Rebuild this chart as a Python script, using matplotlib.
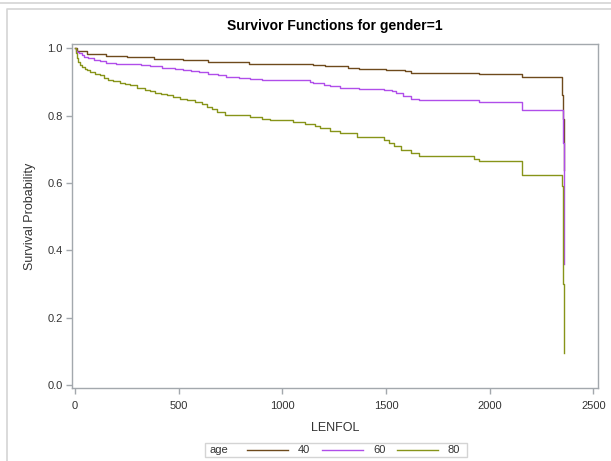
import numpy as np
import matplotlib.pyplot as plt
from matplotlib.lines import Line2D
from matplotlib.patches import Rectangle

plt.rcParams['font.family'] = ['Liberation Sans', 'DejaVu Sans']

# ---- Kaplan-Meier step estimates by age group (time in days, survival) ----
t40 = [0, 10, 60, 150, 250, 380, 520, 640, 840, 1146, 1204, 1315, 1372, 1502,
       1565, 1590, 1620, 1947, 2154, 2351, 2354, 2357]
s40 = [1.0, 0.992, 0.984, 0.977, 0.974, 0.969, 0.964, 0.959, 0.955, 0.950, 0.947,
       0.943, 0.940, 0.937, 0.937, 0.932, 0.928, 0.925, 0.915, 0.86, 0.79, 0.64]

t60 = [0, 5, 12, 20, 32, 45, 65, 90, 120, 150, 200, 270, 320, 360, 420, 480, 520,
       560, 600, 640, 690, 730, 790, 843, 900, 1135, 1150, 1200, 1230, 1280, 1370,
       1490, 1530, 1550, 1580, 1620, 1660, 1923, 1947, 2154, 2352, 2358]
s60 = [1.0, 0.992, 0.988, 0.985, 0.980, 0.975, 0.970, 0.966, 0.962, 0.958, 0.955,
       0.953, 0.950, 0.947, 0.943, 0.940, 0.937, 0.933, 0.929, 0.925, 0.920, 0.915,
       0.911, 0.908, 0.905, 0.900, 0.897, 0.892, 0.887, 0.882, 0.878, 0.875, 0.873,
       0.866, 0.858, 0.851, 0.848, 0.846, 0.841, 0.816, 0.72, 0.36]

t80 = [0, 3, 8, 15, 25, 36, 48, 60, 72, 95, 120, 140, 159, 185, 216, 240, 265,
       298, 337, 360, 385, 415, 443, 475, 505, 539, 577, 611, 635, 659, 683, 722,
       843, 900, 939, 1050, 1108, 1156, 1180, 1228, 1276, 1362, 1492, 1516, 1540,
       1574, 1622, 1660, 1923, 1947, 2154, 2350, 2353, 2356, 2358]
s80 = [1.0, 0.985, 0.970, 0.960, 0.950, 0.944, 0.939, 0.935, 0.930, 0.925, 0.920,
       0.913, 0.907, 0.902, 0.897, 0.893, 0.890, 0.882, 0.875, 0.872, 0.868, 0.864,
       0.860, 0.855, 0.851, 0.846, 0.841, 0.836, 0.826, 0.821, 0.811, 0.801, 0.796,
       0.789, 0.786, 0.781, 0.774, 0.769, 0.762, 0.755, 0.749, 0.737, 0.727, 0.719,
       0.709, 0.697, 0.688, 0.680, 0.672, 0.666, 0.625, 0.59, 0.47, 0.30, 0.095]

groups = ['40', '60', '80']
colors = ['#6E4A1C', '#B04EEA', '#879419']
series = [(t40, s40), (t60, s60), (t80, s80)]

W, H = 611, 461
fig = plt.figure(figsize=(W / 100, H / 100), dpi=100)

# page frames around the graph
fig.add_artist(Line2D([0, 1], [1 - 3 / H, 1 - 3 / H], color='#d4d4d4', lw=1.2))
fig.add_artist(Line2D([7 / W, 7 / W, 1], [0, 1 - 9.5 / H, 1 - 9.5 / H],
                      color='#d4d4d4', lw=1.2))

L, R, T, B = 72.3, 598.3, 44, 388
ax = fig.add_axes([L / W, 1 - B / H, (R - L) / W, (B - T) / H])

for (t, s), c in zip(series, colors):
    ax.step(t, s, where='post', color=c, lw=1.0)

ax.set_xlim(-13, 2524)
ax.set_ylim(-0.009, 1.013)
ax.set_xticks([0, 500, 1000, 1500, 2000, 2500])
ax.set_yticks([0.0, 0.2, 0.4, 0.6, 0.8, 1.0])
ax.set_yticklabels(['0.0', '0.2', '0.4', '0.6', '0.8', '1.0'])
for sp in ax.spines.values():
    sp.set_color('#a3a8ad')
    sp.set_linewidth(1.0)
ax.tick_params(colors='#a3a8ad', labelcolor='#333333', labelsize=8,
               length=4, width=1.0, pad=3)
ax.tick_params(axis='x', pad=5)

ax.set_xlabel('LENFOL', fontsize=9, color='#333333', labelpad=8)
ax.set_ylabel('Survival Probability', fontsize=9, color='#333333', labelpad=8)
fig.text((L + R) / 2 / W, 1 - 26 / H, 'Survivor Functions for gender=1',
         ha='center', va='center', fontsize=10, fontweight='bold')

# legend strip along the bottom
lx0, lx1, ly0, ly1 = 205, 467, 443, 457
fig.add_artist(Rectangle((lx0 / W, 1 - ly1 / H), (lx1 - lx0) / W, (ly1 - ly0) / H,
                         fill=False, edgecolor='#d4d4d4', lw=1.0))
ymid = 1 - (ly0 + ly1) / 2 / H
fig.text(210 / W, ymid, 'age', ha='left', va='center', fontsize=8, color='#333333')
for i, (g, c) in enumerate(zip(groups, colors)):
    x0 = 247 + i * 75
    fig.add_artist(Line2D([x0 / W, (x0 + 41) / W], [ymid, ymid], color=c, lw=1.0))
    fig.text((x0 + 51) / W, ymid, g, ha='left', va='center', fontsize=8,
             color='#333333')

fig.savefig('out.png', dpi=100)
